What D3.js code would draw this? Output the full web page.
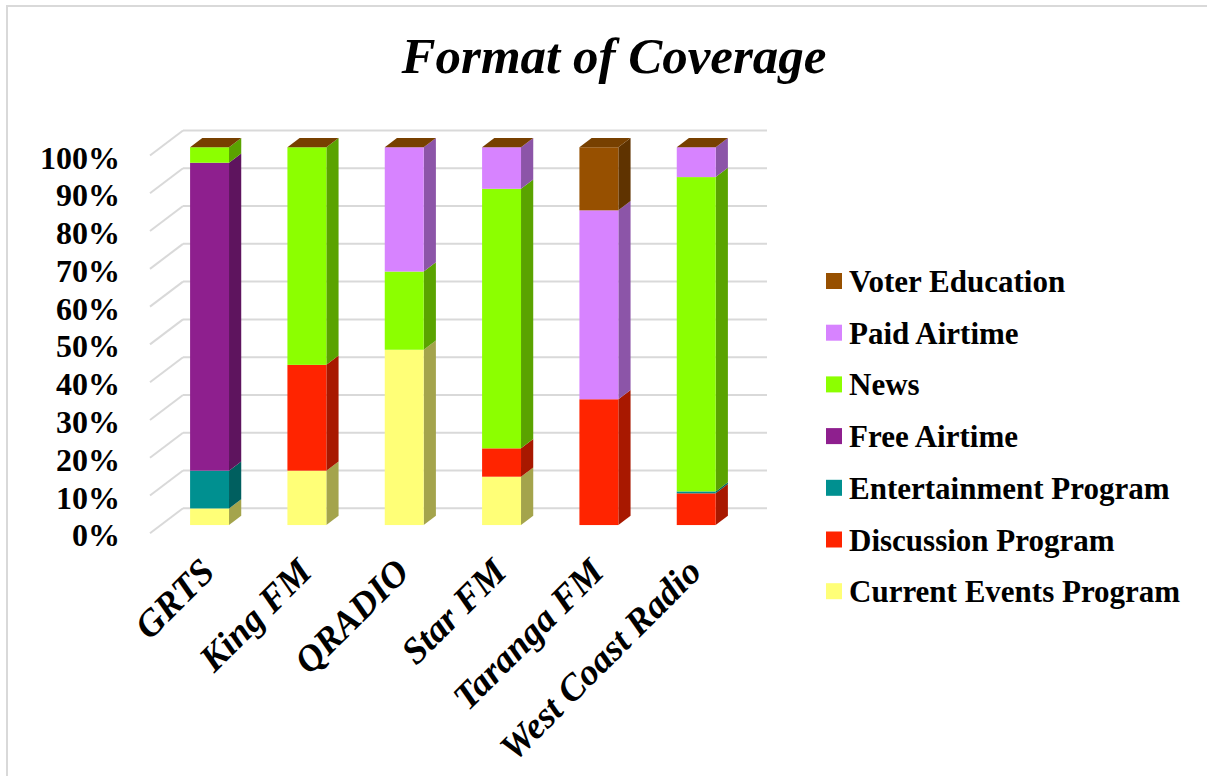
<!DOCTYPE html>
<html>
<head>
<meta charset="utf-8">
<script src="https://cdn.jsdelivr.net/npm/d3@7"></script>
<style>
  html, body { margin: 0; padding: 0; background: #fff; }
  svg { display: block; }
  text { font-family: "Liberation Serif", "Times New Roman", serif; font-weight: bold; fill: #000; }
</style>
</head>
<body>
<svg id="chart" width="1207" height="776"></svg>
<script>
// Stations (x categories)
const categories = ["GRTS", "King FM", "QRADIO", "Star FM", "Taranga FM", "West Coast Radio"];

// Share of coverage per format, percent, one array per series
const currentEvents  = [4.4, 14.4, 46.4, 12.8, 0, 0];
const discussion     = [0, 28.0, 0, 7.5, 33.3, 8.4];
const entertainment  = [10.0, 0, 0, 0, 0, 0.5];
const freeAirtime    = [81.5, 0, 0, 0, 0, 0];
const news           = [4.1, 57.6, 20.7, 68.7, 0, 83.2];
const paidAirtime    = [0, 0, 32.9, 11.0, 50.0, 7.9];
const voterEducation = [0, 0, 0, 0, 16.7, 0];

// Series in stacking order (bottom to top)
const seriesNames = ["Current Events Program", "Discussion Program", "Entertainment Program",
                     "Free Airtime", "News", "Paid Airtime", "Voter Education"];
const seriesValues = [currentEvents, discussion, entertainment, freeAirtime, news, paidAirtime, voterEducation];

const yTicks = [0, 10, 20, 30, 40, 50, 60, 70, 80, 90, 100];
const tickLabels = yTicks.map(v => v + "%");

// Face colours: front, side, top
const palette = {
  "Current Events Program": ["#ffff77", "#a4a44c", "#d8d860"],
  "Discussion Program":     ["#ff2400", "#a81800", "#d01e00"],
  "Entertainment Program":  ["#009090", "#005f5f", "#007878"],
  "Free Airtime":           ["#8e1f8e", "#5e145e", "#741a74"],
  "News":                   ["#8cff00", "#5aa300", "#74d000"],
  "Paid Airtime":           ["#d783ff", "#8c55a8", "#b06cd0"],
  "Voter Education":        ["#975000", "#5f3300", "#774000"]
};

// Table rows for d3.stack
const rows = categories.map((c, i) => {
  const r = { station: c };
  seriesNames.forEach((s, k) => { r[s] = seriesValues[k][i]; });
  return r;
});
const stacked = d3.stack().keys(seriesNames)(rows);

const svg = d3.select("#chart");

// Chart area frame
svg.append("path")
  .attr("d", "M7,800 L7,6 L1300,6")
  .attr("fill", "none")
  .attr("stroke", "#d9d9d9")
  .attr("stroke-width", 2);

// Title
svg.append("text")
  .attr("x", 614).attr("y", 73)
  .attr("text-anchor", "middle")
  .style("font-size", "51px")
  .style("font-style", "italic")
  .text("Format of Coverage");

// Pseudo-3D geometry: front plane scales plus a depth vector for the walls
const wall = { dx: 33, dy: -25 };
const fFront = 0.33, fBack = 0.70;
const x = d3.scaleBand().domain(categories).range([150, 734]).paddingInner(0.6).paddingOuter(0.3);
const y = d3.scaleLinear().domain([0, 100]).range([533.3, 155.5]);

const grid = svg.append("g").attr("stroke", "#d9d9d9").attr("stroke-width", 2).attr("fill", "none");
// back wall gridlines
grid.selectAll("line.back").data(yTicks).join("line")
  .attr("class", "back")
  .attr("x1", 150 + wall.dx).attr("x2", 734 + wall.dx)
  .attr("y1", d => y(d) + wall.dy).attr("y2", d => y(d) + wall.dy);
// side wall gridlines
grid.selectAll("line.side").data(yTicks).join("line")
  .attr("class", "side")
  .attr("x1", 150).attr("x2", 150 + wall.dx)
  .attr("y1", d => y(d)).attr("y2", d => y(d) + wall.dy);

// Y axis labels
svg.append("g").selectAll("text").data(yTicks).join("text")
  .attr("x", 120).attr("y", d => y(d) + 2)
  .attr("text-anchor", "end")
  .attr("dominant-baseline", "central")
  .style("font-size", "32px")
  .text((d, i) => tickLabels[i]);

// Bars
const fx = wall.dx * fFront, fy = wall.dy * fFront;
const sdx = wall.dx * (fBack - fFront), sdy = wall.dy * (fBack - fFront);
const bw = x.bandwidth();

const bars = svg.append("g");
stacked.forEach(layer => {
  const col = palette[layer.key];
  layer.forEach((seg, i) => {
    const cat = categories[i];
    const x0 = x(cat) + fx, x1 = x0 + bw;
    const yb = y(seg[0]) + fy, yt = y(seg[1]) + fy;
    if (seg[1] - seg[0] <= 0) return;
    // side face
    bars.append("path")
      .attr("d", `M${x1},${yb} L${x1 + sdx},${yb + sdy} L${x1 + sdx},${yt + sdy} L${x1},${yt} Z`)
      .attr("fill", col[1]);
    // front face
    bars.append("rect")
      .attr("x", x0).attr("y", yt)
      .attr("width", bw).attr("height", yb - yt)
      .attr("fill", col[0]);
  });
});
// Top caps take the colour of the top series
const topLayer = stacked[stacked.length - 1];
topLayer.forEach((seg, i) => {
  const x0 = x(categories[i]) + fx, x1 = x0 + bw;
  const yt = y(seg[1]) + fy;
  bars.append("path")
    .attr("d", `M${x0},${yt} L${x1},${yt} L${x1 + sdx},${yt + sdy} L${x0 + sdx},${yt + sdy} Z`)
    .attr("fill", palette["Voter Education"][2]);
});

// Category labels, rotated
svg.append("g").selectAll("text").data(categories).join("text")
  .attr("transform", d => `translate(${x(d) + fx + bw / 2 + 7},${574}) rotate(-45)`)
  .attr("text-anchor", "end")
  .style("font-size", "37px")
  .style("font-style", "italic")
  .text(d => d);

// Legend (top series first)
const legendOrder = seriesNames.slice().reverse();
const lg = svg.append("g").selectAll("g").data(legendOrder).join("g")
  .attr("transform", (d, i) => `translate(826,${281 + i * 51.7})`);
lg.append("rect")
  .attr("x", 0).attr("y", -8).attr("width", 16).attr("height", 16)
  .attr("fill", d => palette[d][0]);
lg.append("text")
  .attr("x", 23).attr("y", 11)
  .style("font-size", "31px")
  .text(d => d);
</script>
</body>
</html>
